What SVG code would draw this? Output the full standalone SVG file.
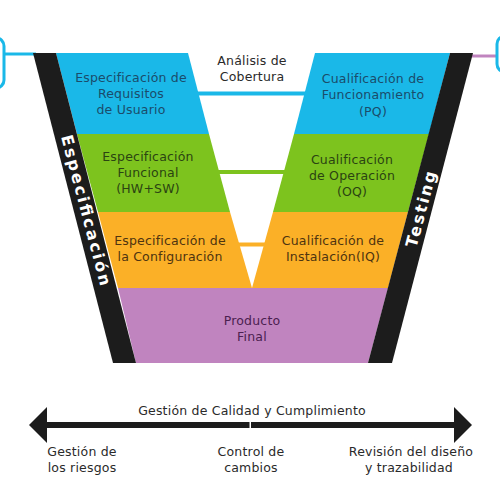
<svg xmlns="http://www.w3.org/2000/svg" width="500" height="500" viewBox="0 0 500 500">
<style>
  .t{font-family:"DejaVu Sans","Open Sans",sans-serif;font-size:12.5px;letter-spacing:0.2px;text-anchor:middle}
  .tb{fill:#1b4c6b}.tg{fill:#2b4412}.to{fill:#4e3410}.tp{fill:#4b2150}.tk{fill:#2a2a2a}
  .band{font-family:"DejaVu Sans","Open Sans",sans-serif;font-weight:bold;font-size:16px;fill:#fff;text-anchor:middle}
</style>
<defs>
  <marker id="ah" markerWidth="4" markerHeight="6" refX="0.5" refY="3" orient="auto" markerUnits="strokeWidth">
    <path d="M0,0 L3,3 L0,6 Z" fill="#1c1c1c"/>
  </marker>
</defs>
<rect width="500" height="500" fill="#fff"/>
<g id="edge-decor">
  <rect x="-40" y="38" width="44" height="50" rx="8" fill="none" stroke="#1ab8e8" stroke-width="3"/>
  <line x1="4" y1="54" x2="36" y2="54" stroke="#1ab8e8" stroke-width="3"/>
  <line x1="470" y1="56" x2="497" y2="56" stroke="#c084bf" stroke-width="3"/>
  <rect x="497" y="36" width="44" height="36" rx="8" fill="none" stroke="#1ab8e8" stroke-width="3"/>
</g>
<g id="left-blue">
  <polygon points="56,53 188,53 209,134 77,134" fill="#1ab8e8"/>
  <text class="t tb" x="131" y="82">Especificación de</text>
  <text class="t tb" x="131" y="98">Requisitos</text>
  <text class="t tb" x="131" y="114">de Usuario</text>
</g>
<g id="left-green">
  <polygon points="77,134 209,134 230,212 98,212" fill="#7dc31e"/>
  <text class="t tg" x="148" y="161">Especificación</text>
  <text class="t tg" x="148" y="177">Funcional</text>
  <text class="t tg" x="148" y="193">(HW+SW)</text>
</g>
<g id="left-orange">
  <polygon points="98,212 230,212 252,288 118,288" fill="#fbb027"/>
  <text class="t to" x="170" y="245">Especificación de</text>
  <text class="t to" x="170" y="261">la Configuración</text>
</g>
<g id="right-blue">
  <polygon points="315,53 450,53 429,134 294,134" fill="#1ab8e8"/>
  <text class="t tb" x="373" y="83">Cualificación de</text>
  <text class="t tb" x="373" y="99">Funcionamiento</text>
  <text class="t tb" x="373" y="116">(PQ)</text>
</g>
<g id="right-green">
  <polygon points="294,134 429,134 408,212 273,212" fill="#7dc31e"/>
  <text class="t tg" x="352" y="164">Cualificación</text>
  <text class="t tg" x="352" y="180">de Operación</text>
  <text class="t tg" x="352" y="196">(OQ)</text>
</g>
<g id="right-orange">
  <polygon points="273,212 408,212 388,288 252,288" fill="#fbb027"/>
  <text class="t to" x="333" y="245">Cualificación de</text>
  <text class="t to" x="333" y="261">Instalación(IQ)</text>
</g>
<g id="producto">
  <polygon points="118,288 388,288 368,363 136,363" fill="#c084bf"/>
  <text class="t tp" x="252" y="325">Producto</text>
  <text class="t tp" x="252" y="341">Final</text>
</g>
<g id="especificacion-band">
  <polygon points="33,53 56,53 136,363 113,363" fill="#1c1c1c"/>
  <text class="band" transform="translate(86.5,210) rotate(75.2)" y="6" textLength="155" lengthAdjust="spacing">Especificación</text>
</g>
<g id="testing-band">
  <polygon points="450,53 473,53 392,363 368,363" fill="#1c1c1c"/>
  <text class="band" transform="translate(420.5,209) rotate(-75.2)" y="6" textLength="78" lengthAdjust="spacing">Testing</text>
</g>
<g id="analisis">
  <text class="t tk" x="252" y="65">Análisis de</text>
  <text class="t tk" x="252" y="81">Cobertura</text>
</g>
<g id="connectors">
  <line x1="197" y1="93.5" x2="306" y2="93.5" stroke="#1ab8e8" stroke-width="4"/>
  <line x1="218" y1="172" x2="285" y2="172" stroke="#7dc31e" stroke-width="4"/>
  <line x1="238" y1="244.5" x2="266" y2="244.5" stroke="#fbb027" stroke-width="4"/>
  <line x1="249.5" y1="425" x2="44" y2="425" stroke="#1c1c1c" stroke-width="6" marker-end="url(#ah)"/>
  <line x1="251" y1="425" x2="457" y2="425" stroke="#1c1c1c" stroke-width="6" marker-end="url(#ah)"/>
</g>
<g id="bottom-labels">
  <text class="t tk" x="252" y="415">Gestión de Calidad y Cumplimiento</text>
  <text class="t tk" x="82" y="456">Gestión de</text>
  <text class="t tk" x="82" y="472">los riesgos</text>
  <text class="t tk" x="251" y="456">Control de</text>
  <text class="t tk" x="251" y="472">cambios</text>
  <text class="t tk" x="411" y="456">Revisión del diseño</text>
  <text class="t tk" x="409" y="472">y trazabilidad</text>
</g>
</svg>
